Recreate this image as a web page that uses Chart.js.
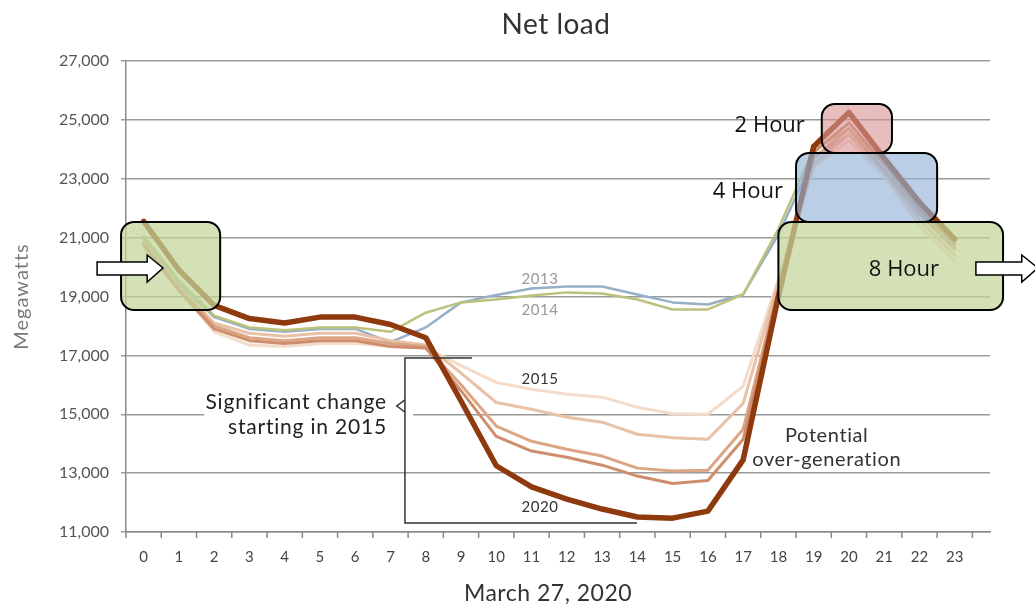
<!DOCTYPE html>
<html>
<head>
<meta charset="utf-8">
<title>Net load</title>
<script src="https://cdn.jsdelivr.net/npm/chart.js@4.4.1/dist/chart.umd.min.js"></script>
<style>
  html, body { margin: 0; padding: 0; background: #fff; }
  #wrap { width: 1035px; height: 609px; position: relative; }
</style>
</head>
<body>
<div id="wrap"><canvas id="netLoad"></canvas></div>
<script>
// Hour of day (March 27)
const hours = [0, 1, 2, 3, 4, 5, 6, 7, 8, 9, 10, 11, 12, 13, 14, 15, 16, 17, 18, 19, 20, 21, 22, 23];

// Net load in MW
const load2013 = [20950, 19450, 18300, 17900, 17800, 17900, 17900, 17450, 17950, 18800, 19050, 19270, 19340, 19340, 19070, 18800, 18730, 19070, 21100, 23700, 24500, 23300, 21900, 20700];
const load2014 = [21050, 19550, 18350, 17950, 17850, 17950, 17950, 17800, 18450, 18800, 18900, 19030, 19140, 19100, 18900, 18560, 18560, 19070, 21300, 24000, 24700, 23500, 22100, 20900];
const load2015 = [20650, 19250, 17800, 17350, 17300, 17400, 17400, 17300, 17250, 16650, 16080, 15850, 15680, 15580, 15240, 15020, 15000, 15950, 19600, 23400, 24300, 23100, 21400, 20200];
const load2016 = [20850, 19350, 18100, 17750, 17650, 17750, 17750, 17500, 17350, 16400, 15400, 15170, 14900, 14730, 14320, 14200, 14150, 15370, 19500, 23500, 24500, 23200, 21600, 20400];
const load2017 = [20800, 19300, 18000, 17600, 17500, 17600, 17600, 17400, 17300, 16000, 14600, 14080, 13810, 13580, 13170, 13070, 13100, 14490, 19300, 23700, 24700, 23300, 21800, 20600];
const load2018 = [20750, 19200, 17900, 17500, 17400, 17500, 17500, 17300, 17250, 15800, 14250, 13750, 13540, 13270, 12900, 12650, 12750, 14150, 19200, 23900, 24900, 23500, 22000, 20800];
const load2020 = [21550, 19900, 18700, 18250, 18100, 18300, 18300, 18050, 17600, 15450, 13250, 12530, 12120, 11780, 11510, 11470, 11710, 13450, 19000, 24100, 25250, 23700, 22200, 20950];

// Y axis tick values
const yTicks = [11000, 13000, 15000, 17000, 19000, 21000, 23000, 25000, 27000];

const FONT = 'Lato, "Noto Sans", sans-serif';
const BOX_FONT = '"Open Sans", "Noto Sans", sans-serif';

const toPoints = vals => hours.map((h, i) => ({ x: h, y: vals[i] }));

function series(label, vals, color, width, order) {
    return {
        label: label,
        data: toPoints(vals),
        borderColor: color,
        borderWidth: width,
        pointRadius: 0,
        tension: 0,
        borderJoinStyle: 'round',
        borderCapStyle: 'round',
        order: order
    };
}

// --- Annotations (positions in hours / MW, converted through the scales) ---
const storageBoxes = [
    { from: -0.64, to: 2.17, top: 21530, bottom: 18540, fill: 'rgba(195, 214, 155, 0.72)' },
    { from: 18.0, to: 24.37, top: 21530, bottom: 18540, fill: 'rgba(195, 214, 155, 0.72)', text: '8 Hour', tx: 21.56, ty: 19900, align: 'center' },
    { from: 18.5, to: 22.5, top: 23875, bottom: 21530, fill: 'rgba(149, 179, 215, 0.65)', text: '4 Hour', tx: 18.13, ty: 22550, align: 'right' },
    { from: 19.23, to: 21.22, top: 25540, bottom: 23875, fill: 'rgba(217, 149, 148, 0.62)', text: '2 Hour', tx: 18.75, ty: 24790, align: 'right' }
];

const arrows = [
    { x0: -1.32, xHead: 0.10, xTip: 0.55 },
    { x0: 23.6, xHead: 24.9, xTip: 25.36 }
];

const yearLabels = [
    { text: '2013', h: 11.24, v: 19595, color: '#9a9a9a' },
    { text: '2014', h: 11.24, v: 18542, color: '#9a9a9a' },
    { text: '2015', h: 11.24, v: 16198, color: '#333' },
    { text: '2020', h: 11.24, v: 11850, color: '#333' }
];

function roundBox(ctx, x, y, w, h, r) {
    ctx.beginPath();
    ctx.moveTo(x + r, y);
    ctx.lineTo(x + w - r, y);
    ctx.arcTo(x + w, y, x + w, y + r, r);
    ctx.lineTo(x + w, y + h - r);
    ctx.arcTo(x + w, y + h, x + w - r, y + h, r);
    ctx.lineTo(x + r, y + h);
    ctx.arcTo(x, y + h, x, y + h - r, r);
    ctx.lineTo(x, y + r);
    ctx.arcTo(x, y, x + r, y, r);
    ctx.closePath();
}

function spaced(ctx, px) {
    if ('letterSpacing' in ctx) ctx.letterSpacing = px + 'px';
}

const notesPlugin = {
    id: 'duckNotes',
    afterDatasetsDraw(chart) {
        const ctx = chart.ctx;
        const px = h => chart.scales.x.getPixelForValue(h);
        const py = v => chart.scales.y.getPixelForValue(v);
        const area = chart.chartArea;
        ctx.save();

        // x tick marks sit between the hour labels
        ctx.strokeStyle = '#8a8a8a';
        ctx.lineWidth = 1.5;
        for (let i = 0; i <= hours.length; i++) {
            const xx = px(hours[0] - 0.5 + i);
            ctx.beginPath();
            ctx.moveTo(xx, area.bottom);
            ctx.lineTo(xx, area.bottom + 6);
            ctx.stroke();
        }

        // "Significant change" note with bracket
        ctx.fillStyle = '#fff';
        ctx.fillRect(px(1.72), py(15000) - 3, px(7.64) - px(1.72), 6);
        ctx.fillStyle = '#222';
        ctx.font = '21px ' + FONT;
        spaced(ctx, 0.8);
        ctx.textAlign = 'right';
        ctx.textBaseline = 'middle';
        ctx.fillText('Significant change', px(6.9), py(15417));
        ctx.fillText('starting in 2015', px(6.9), py(14568));

        ctx.strokeStyle = '#333';
        ctx.lineWidth = 1.5;
        ctx.beginPath();
        ctx.moveTo(px(9.31), py(16912));
        ctx.lineTo(px(7.41), py(16912));
        ctx.lineTo(px(7.41), py(11307));
        ctx.lineTo(px(13.99), py(11307));
        ctx.stroke();
        ctx.beginPath();
        ctx.moveTo(px(7.41), py(15485));
        ctx.lineTo(px(7.18), py(15281));
        ctx.lineTo(px(7.41), py(15077));
        ctx.stroke();

        // year labels
        ctx.font = '15px ' + FONT;
        spaced(ctx, 0.6);
        ctx.textAlign = 'center';
        yearLabels.forEach(l => {
            ctx.fillStyle = l.color;
            ctx.fillText(l.text, px(l.h), py(l.v));
        });

        ctx.fillStyle = '#333';
        ctx.font = '20px ' + FONT;
        spaced(ctx, 0.6);
        ctx.fillText('Potential', px(19.37), py(14263));
        ctx.fillText('over-generation', px(19.37), py(13447));

        // storage boxes
        storageBoxes.forEach(b => {
            const x0 = px(b.from), x1 = px(b.to);
            const y0 = py(b.top), y1 = py(b.bottom);
            roundBox(ctx, x0, y0, x1 - x0, y1 - y0, 13);
            ctx.fillStyle = b.fill;
            ctx.fill();
            ctx.strokeStyle = '#000';
            ctx.lineWidth = 2;
            ctx.stroke();
        });
        ctx.fillStyle = '#111';
        ctx.font = '22px ' + BOX_FONT;
        spaced(ctx, 0);
        storageBoxes.forEach(b => {
            if (!b.text) return;
            ctx.textAlign = b.align;
            ctx.fillText(b.text, px(b.tx), py(b.ty));
        });

        // arrows
        arrows.forEach(a => {
            const x0 = px(a.x0), xh = px(a.xHead), xt = px(a.xTip);
            const ym = py(19969), ys0 = py(20173), ys1 = py(19731), yh0 = py(20410), yh1 = py(19493);
            ctx.beginPath();
            ctx.moveTo(x0, ys0);
            ctx.lineTo(xh, ys0);
            ctx.lineTo(xh, yh0);
            ctx.lineTo(xt, ym);
            ctx.lineTo(xh, yh1);
            ctx.lineTo(xh, ys1);
            ctx.lineTo(x0, ys1);
            ctx.closePath();
            ctx.fillStyle = '#fff';
            ctx.fill();
            ctx.strokeStyle = '#000';
            ctx.lineWidth = 1.5;
            ctx.stroke();
        });

        ctx.restore();
    },
    afterDraw(chart) {
        const ctx = chart.ctx;
        const area = chart.chartArea;
        const mid = (area.left + area.right) / 2;
        ctx.save();
        ctx.fillStyle = '#333';
        ctx.textAlign = 'center';
        ctx.textBaseline = 'middle';
        ctx.font = '28px ' + FONT;
        spaced(ctx, 0.5);
        ctx.fillText('Net load', mid - 2, area.top - 36);
        ctx.font = '23px ' + FONT;
        spaced(ctx, 0.5);
        ctx.fillText('March 27, 2020', mid - 10, area.bottom + 62);

        // y axis title
        ctx.fillStyle = '#7a7a7a';
        ctx.font = '20px ' + FONT;
        spaced(ctx, 1);
        ctx.translate(22, (area.top + area.bottom) / 2);
        ctx.rotate(-Math.PI / 2);
        ctx.fillText('Megawatts', 0, 0);
        ctx.restore();
    }
};

const chart = new Chart(document.getElementById('netLoad'), {
    type: 'line',
    data: {
        datasets: [
            series('2020', load2020, '#8e3a0e', 5.5, 0),
            series('2018', load2018, '#ce8e6b', 3, 1),
            series('2017', load2017, '#dca585', 3, 2),
            series('2016', load2016, '#e9c1a6', 3, 3),
            series('2015', load2015, '#f3dccb', 3, 4),
            series('2014', load2014, '#bcc27c', 2.5, 5),
            series('2013', load2013, '#97b0c8', 2.5, 6)
        ]
    },
    options: {
        responsive: true,
        maintainAspectRatio: false,
        animation: false,
        devicePixelRatio: 1,
        layout: { padding: { top: 61, right: 45, left: 0, bottom: 0 } },
        plugins: {
            legend: { display: false },
            tooltip: { enabled: false }
        },
        scales: {
            x: {
                type: 'linear',
                min: -0.5,
                max: 24,
                afterBuildTicks: s => { s.ticks = hours.map(h => ({ value: h })); },
                afterFit: s => { s.height = 77; },
                ticks: {
                    color: '#444',
                    font: { family: FONT, size: 15 },
                    padding: 16,
                    autoSkip: false,
                    maxRotation: 0,
                    callback: v => String(v)
                },
                grid: { display: false, drawTicks: false },
                border: { color: '#8a8a8a', width: 1.5 }
            },
            y: {
                min: 11000,
                max: 27000,
                afterBuildTicks: s => { s.ticks = yTicks.map(v => ({ value: v })); },
                afterFit: s => { s.width = 126; },
                ticks: {
                    color: '#555',
                    font: { family: FONT, size: 16 },
                    padding: 12,
                    callback: v => v.toLocaleString('en-US')
                },
                grid: { color: '#9a9a9a', lineWidth: 1.5, tickLength: 5 },
                border: { color: '#8a8a8a', width: 1.5 }
            }
        }
    },
    plugins: [notesPlugin]
});
</script>
</body>
</html>
